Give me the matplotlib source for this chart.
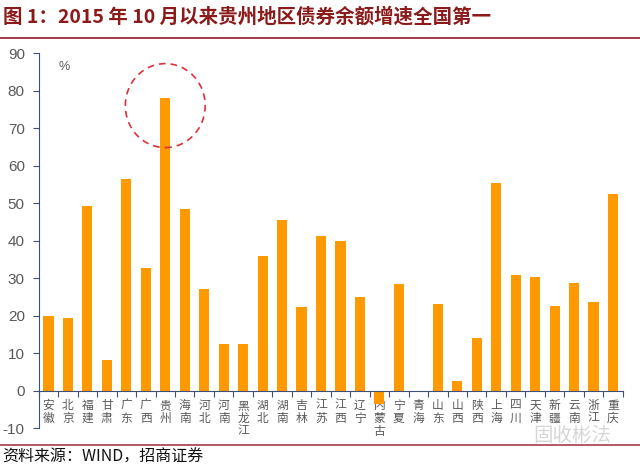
import matplotlib.pyplot as plt
from matplotlib.patches import Ellipse
from matplotlib.lines import Line2D

plt.rcParams['font.family'] = ['Noto Sans CJK SC', 'DejaVu Sans']

provinces = ['安徽', '北京', '福建', '甘肃', '广东', '广西', '贵州', '海南', '河北', '河南',
             '黑龙江', '湖北', '湖南', '吉林', '江苏', '江西', '辽宁', '内蒙古', '宁夏', '青海',
             '山东', '山西', '陕西', '上海', '四川', '天津', '新疆', '云南', '浙江', '重庆']
growth = [19.9, 19.4, 49.2, 8.2, 56.3, 32.6, 78.1, 48.4, 27.1, 12.4,
          12.4, 36.0, 45.5, 22.3, 41.3, 39.9, 24.9, -3.5, 28.4, 0.0,
          23.0, 2.5, 13.9, 55.4, 30.8, 30.3, 22.6, 28.7, 23.6, 52.3]
yticks = list(range(-10, 91, 10))

axis_col = '#3F4F75'
text_col = '#595959'
red = '#8B1A1A'

fig = plt.figure(figsize=(6.4, 4.66), dpi=100)
ax = fig.add_axes([0.0605, 0.0815, 0.9125, 0.8045])

x = list(range(len(provinces)))
ax.bar(x, growth, width=0.52, color='#FF9900', zorder=2)

ax.set_xlim(-0.5, len(provinces) - 0.5)
ax.set_ylim(-10, 90)
ax.set_yticks(yticks)
ax.set_yticklabels([str(v) for v in yticks], family='Liberation Sans', fontsize=11, color=text_col)

ax.spines['top'].set_visible(False)
ax.spines['right'].set_visible(False)
ax.spines['left'].set_color(axis_col)
ax.spines['bottom'].set_color(axis_col)
ax.spines['bottom'].set_position(('data', 0))
ax.tick_params(axis='y', direction='out', length=4, color=axis_col, pad=6)

# category boundary ticks, labels stacked vertically
ax.set_xticks([i - 0.5 for i in range(len(provinces) + 1)])
ax.set_xticklabels([])
ax.set_xticks(x, minor=True)
ax.set_xticklabels(['\n'.join(p) for p in provinces], minor=True,
                   fontsize=8.5, color=text_col, va='top', linespacing=1.0)
ax.tick_params(axis='x', which='major', direction='out', length=4, color=axis_col)
ax.tick_params(axis='x', which='minor', length=0, pad=6)

ax.text(0.5, 88, '%', fontsize=9, color=text_col, va='top', family='Liberation Sans')

ax.add_patch(Ellipse((6, 76), 4.1, 22.4, fill=False, edgecolor='#E0303A',
                     linestyle=(0, (4, 3)), linewidth=1.2, zorder=3))

fig.text(0.005, 0.963, '图 1：2015 年 10 月以来贵州地区债券余额增速全国第一',
         fontsize=14, fontweight='bold', color=red, va='center')
fig.add_artist(Line2D([0, 1], [0.918, 0.918], color='#9E2A3A', linewidth=1.3))
fig.add_artist(Line2D([0, 1], [0.045, 0.045], color='#B04A5A', linewidth=1.3))
fig.text(0.003, 0.018, '资料来源：WIND，招商证券', fontsize=11.5, color='#111111', va='center')

fig.text(0.955, 0.066, '固收彬法', fontsize=14, color='#BBBBBB', alpha=0.6,
         ha='right', va='center')

fig.savefig('out.png', dpi=100)
